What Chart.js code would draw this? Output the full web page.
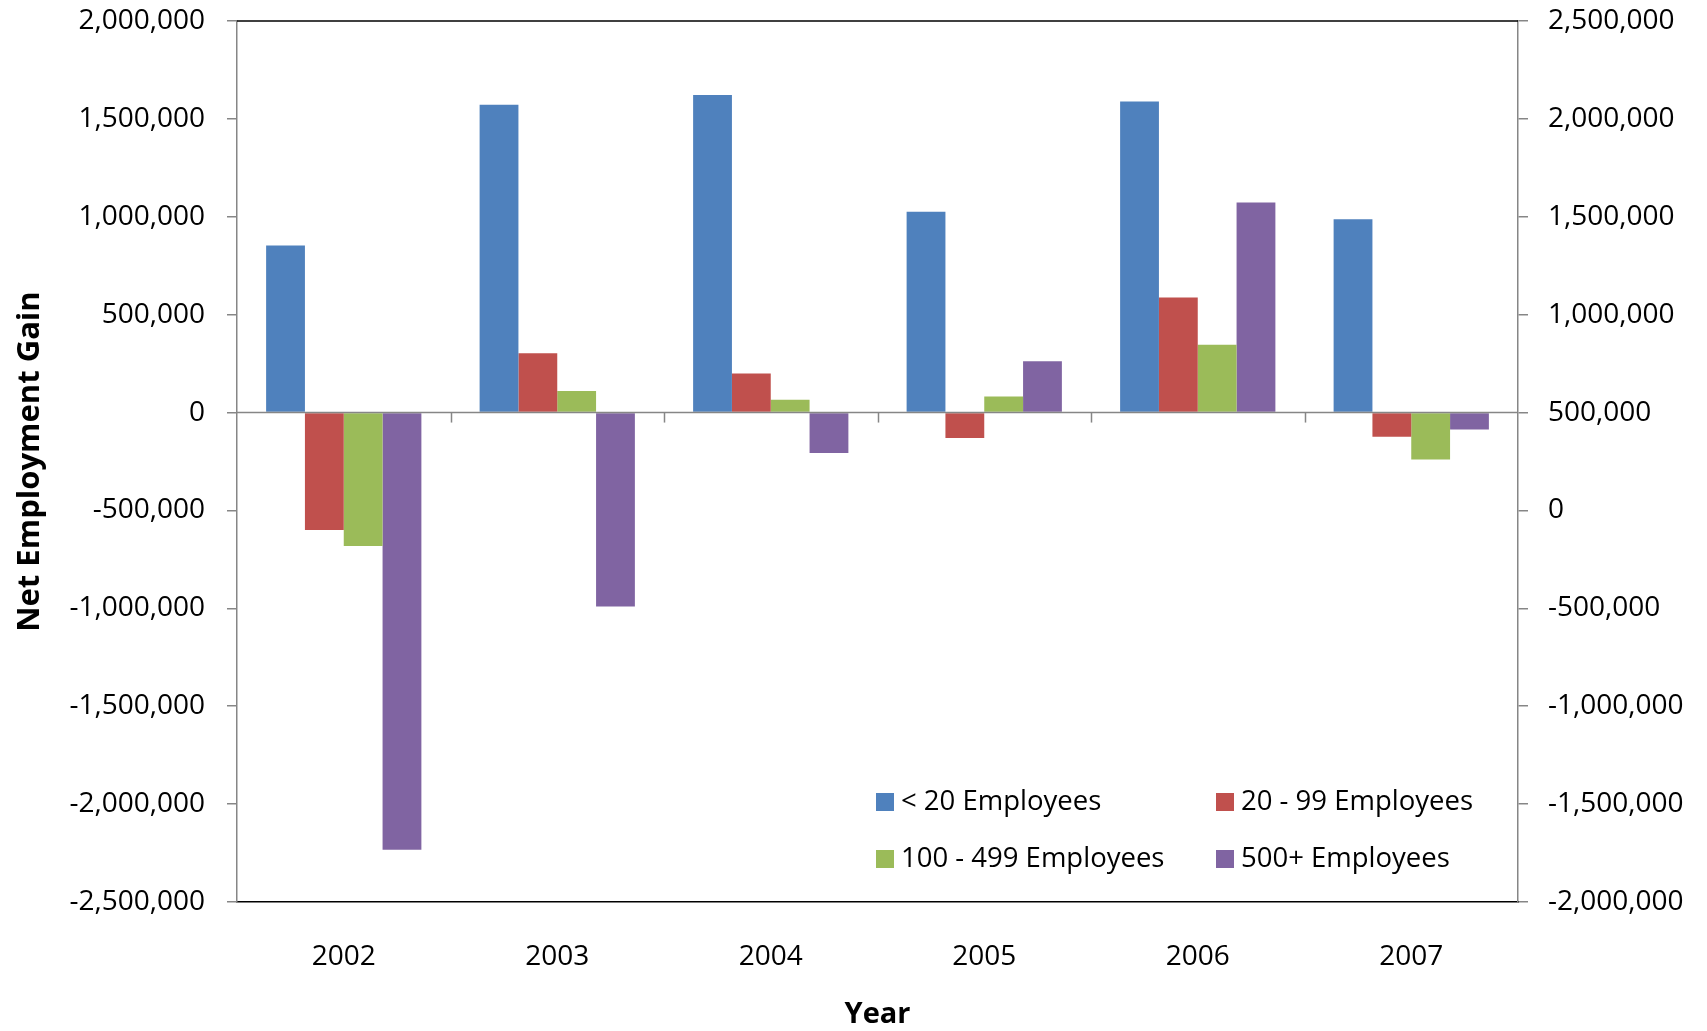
<!DOCTYPE html>
<html>
<head>
<meta charset="utf-8">
<script src="https://cdn.jsdelivr.net/npm/chart.js@4.4.1/dist/chart.umd.min.js"></script>
<style>
  html, body { margin: 0; padding: 0; background: #fff; }
  #wrap { width: 1707px; height: 1031px; }
</style>
</head>
<body>
<div id="wrap"><canvas id="c" width="1707" height="1031"></canvas></div>
<script>
const years = ['2002', '2003', '2004', '2005', '2006', '2007'];
const seriesNames = ['< 20 Employees', '20 - 99 Employees', '100 - 499 Employees', '500+ Employees'];
const under20 = [853000, 1572000, 1622000, 1026000, 1589000, 987000];
const from20to99 = [-600000, 303000, 199000, -130000, 588000, -123000];
const from100to499 = [-681000, 110000, 65000, 82000, 346000, -240000];
const over500 = [-2233000, -991000, -207000, 262000, 1073000, -87000];
const colors = ['#4F81BD', '#C0504D', '#9BBB59', '#8064A2'];
const leftTicks = { min: -2500000, max: 2000000, step: 500000 };
const rightTicks = { min: -2000000, max: 2500000, step: 500000 };

const FONT = "'Open Sans', 'Noto Sans', sans-serif";
const GRAY = '#868686';
const fmt = v => Number(v).toLocaleString('en-US');

const seriesData = [under20, from20to99, from100to499, over500];

const decorPlugin = {
  id: 'decor',
  afterDatasetsDraw(chart) {
    const { ctx, chartArea, scales } = chart;
    const x = scales.x, y = scales.y;
    const zeroY = y.getPixelForValue(0);
    const n = years.length;
    const cw = (chartArea.right - chartArea.left) / n;
    ctx.save();
    ctx.strokeStyle = GRAY;
    ctx.lineWidth = 1.5;
    ctx.beginPath();
    ctx.moveTo(chartArea.left, zeroY);
    ctx.lineTo(chartArea.right, zeroY);
    ctx.stroke();
    for (let i = 1; i < n; i++) {
      const bx = Math.round(x.getPixelForValue(i) - cw / 2) + 0.5;
      ctx.beginPath();
      ctx.moveTo(bx, zeroY);
      ctx.lineTo(bx, zeroY + 10);
      ctx.stroke();
    }
    ctx.strokeStyle = '#000';
    ctx.lineWidth = 1.5;
    ctx.beginPath();
    ctx.moveTo(chartArea.left, chartArea.top);
    ctx.lineTo(chartArea.right, chartArea.top);
    ctx.stroke();
    ctx.restore();
  },
  afterDraw(chart) {
    const { ctx, chartArea } = chart;
    const colX = [chartArea.left + 639, chartArea.left + 979];
    const rowY = [chartArea.top + 781, chartArea.top + 838];
    ctx.save();
    ctx.font = "27.5px " + FONT;
    ctx.textBaseline = 'middle';
    ctx.textAlign = 'left';
    chart.data.datasets.forEach((ds, i) => {
      const cx = colX[i % 2];
      const cy = rowY[Math.floor(i / 2)];
      ctx.fillStyle = ds.backgroundColor;
      ctx.fillRect(cx, cy - 9, 18, 18);
      ctx.fillStyle = '#000';
      ctx.fillText(ds.label, cx + 25, cy);
    });
    ctx.restore();
  }
};

function fitVertical(width) {
  return function (s) {
    s.width = width;
    s.paddingTop = 0;
    s.paddingBottom = 0;
  };
}

new Chart(document.getElementById('c'), {
  type: 'bar',
  data: {
    labels: years,
    datasets: seriesNames.map((name, i) => ({
      label: name,
      data: seriesData[i],
      backgroundColor: colors[i],
      borderWidth: 0,
      yAxisID: 'y',
      categoryPercentage: 4 / 5.5,
      barPercentage: 1.0
    }))
  },
  options: {
    responsive: false,
    animation: false,
    layout: { padding: { top: 21, left: 0, right: 0, bottom: 0 } },
    plugins: {
      legend: { display: false },
      tooltip: { enabled: false }
    },
    scales: {
      x: {
        type: 'category',
        position: 'bottom',
        offset: true,
        grid: { display: false },
        border: { display: true, color: '#000', width: 1.5 },
        ticks: { color: '#000', font: { family: FONT, size: 28 }, padding: 30, maxRotation: 0 },
        title: { display: true, text: 'Year', color: '#000', font: { family: FONT, size: 29, weight: 'bold' }, padding: { top: 0, bottom: -1 } },
        afterFit(s) { s.height = 129; s.paddingLeft = 0; s.paddingRight = 0; }
      },
      y: {
        position: 'left',
        min: leftTicks.min,
        max: leftTicks.max,
        ticks: { stepSize: leftTicks.step, color: '#000', font: { family: FONT, size: 28 }, padding: 22, callback: v => fmt(v) },
        grid: { drawOnChartArea: false, tickColor: GRAY, tickLength: 10, lineWidth: 1.5 },
        border: { display: true, color: GRAY, width: 1.5 },
        title: { display: true, text: 'Net Employment Gain', color: '#000', font: { family: FONT, size: 31, weight: 'bold' }, padding: { top: 12, bottom: 0 } },
        afterFit: fitVertical(237)
      },
      y2: {
        position: 'right',
        min: rightTicks.min,
        max: rightTicks.max,
        ticks: { stepSize: rightTicks.step, color: '#000', font: { family: FONT, size: 28 }, padding: 20, callback: v => fmt(v) },
        grid: { drawOnChartArea: false, tickColor: GRAY, tickLength: 10, lineWidth: 1.5 },
        border: { display: true, color: GRAY, width: 1.5 },
        afterFit: fitVertical(189)
      }
    }
  },
  plugins: [decorPlugin]
});
</script>
</body>
</html>
